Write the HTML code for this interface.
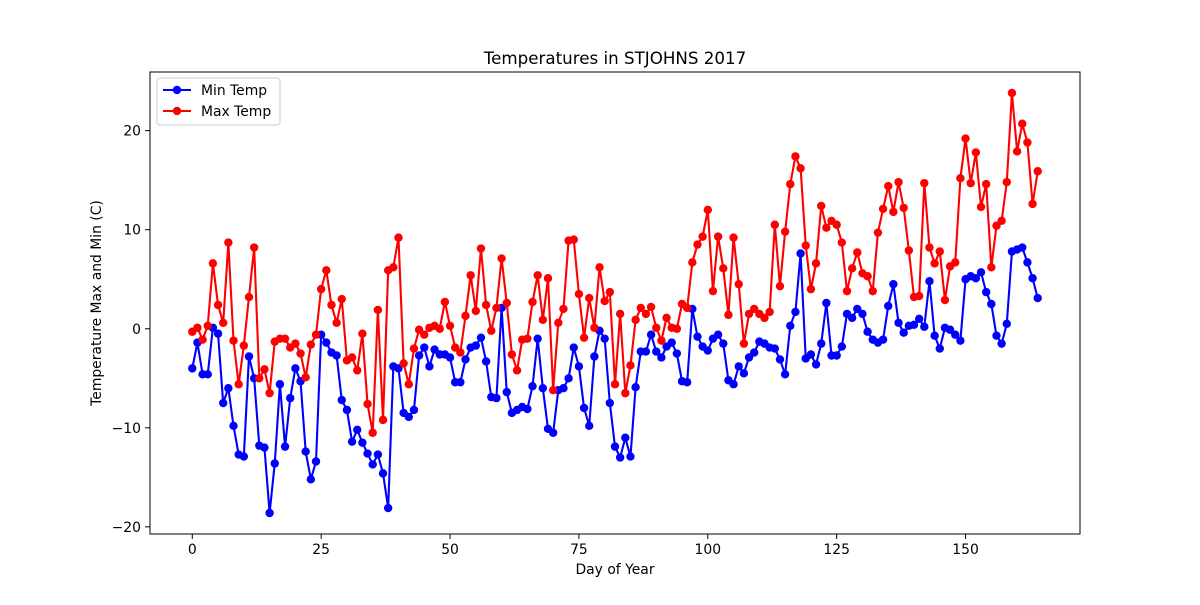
<!DOCTYPE html>
<html><head><meta charset="utf-8">
<style>
html,body{margin:0;padding:0;background:#fff;}
svg text{font-family:"DejaVu Sans","Liberation Sans",sans-serif;fill:#000;}
</style></head>
<body>
<svg id="chart" width="1200" height="600" xmlns="http://www.w3.org/2000/svg">
<rect width="1200" height="600" fill="#fff"/>
<text x="615" y="64" font-size="16.7" text-anchor="middle">Temperatures in STJOHNS 2017</text>
<g id="plot"></g>
<rect x="150" y="72" width="930" height="462" fill="none" stroke="#000" stroke-width="1"/>
<g id="xticks"></g><g id="yticks"></g>
<text x="615" y="574" font-size="13.9" text-anchor="middle">Day of Year</text>
<text transform="translate(101,303) rotate(-90)" font-size="13.9" text-anchor="middle">Temperature Max and Min (C)</text>
<g>
<rect x="157" y="78" width="123" height="47" rx="3" fill="#fff" fill-opacity="0.8" stroke="#ccc" stroke-width="1"/>
<g>
<line x1="163" y1="90" x2="191" y2="90" stroke="#0000ff" stroke-width="2.1"/>
<circle cx="177" cy="90" r="4.2" fill="#0000ff"/>
<text x="201" y="95" font-size="13.9">Min Temp</text></g>
<g>
<line x1="163" y1="111" x2="191" y2="111" stroke="#ff0000" stroke-width="2.1"/>
<circle cx="177" cy="111" r="4.2" fill="#ff0000"/>
<text x="201" y="116" font-size="13.9">Max Temp</text></g>
</g>
</svg>
<script>
const minTemp = [-4.0,-1.4,-4.6,-4.6,0.1,-0.5,-7.5,-6.0,-9.8,-12.7,-12.9,-2.8,-5.0,-11.8,-12.0,-18.6,-13.6,-5.6,-11.9,-7.0,-4.0,-5.3,-12.4,-15.2,-13.4,
-0.6,-1.4,-2.4,-2.7,-7.2,-8.2,-11.4,-10.2,-11.5,-12.6,-13.7,-12.7,-14.6,-18.1,-3.8,-4.0,-8.5,-8.9,-8.2,-2.7,-1.9,-3.8,-2.1,-2.6,-2.6,
-2.9,-5.4,-5.4,-3.1,-1.9,-1.7,-0.9,-3.3,-6.9,-7.0,2.1,-6.4,-8.5,-8.2,-7.9,-8.1,-5.8,-1.0,-6.0,-10.1,-10.5,-6.2,-6.0,-5.0,-1.9,
-3.8,-8.0,-9.8,-2.8,-0.2,-1.0,-7.5,-11.9,-13.0,-11.0,-12.9,-5.9,-2.3,-2.3,-0.6,-2.3,-2.9,-1.8,-1.4,-2.5,-5.3,-5.4,2.0,-0.8,-1.8,
-2.2,-1.0,-0.6,-1.5,-5.2,-5.6,-3.8,-4.5,-2.9,-2.4,-1.3,-1.5,-1.9,-2.0,-3.1,-4.6,0.3,1.7,7.6,-3.0,-2.6,-3.6,-1.5,2.6,-2.7,
-2.7,-1.8,1.5,1.1,2.0,1.5,-0.3,-1.1,-1.4,-1.1,2.3,4.5,0.6,-0.4,0.3,0.4,1.0,0.2,4.8,-0.7,-2.0,0.1,-0.1,-0.6,-1.2,
5.0,5.3,5.1,5.7,3.7,2.5,-0.7,-1.5,0.5,7.8,8.0,8.2,6.7,5.1,3.1];
const maxTemp = [-0.3,0.1,-1.1,0.3,6.6,2.4,0.6,8.7,-1.2,-5.6,-1.7,3.2,8.2,-5.0,-4.1,-6.5,-1.3,-1.0,-1.0,-1.9,-1.5,-2.5,-4.9,-1.6,-0.6,
4.0,5.9,2.4,0.6,3.0,-3.2,-2.9,-4.2,-0.5,-7.6,-10.5,1.9,-9.2,5.9,6.2,9.2,-3.5,-5.6,-2.0,-0.1,-0.6,0.1,0.3,0.0,2.7,
0.3,-1.9,-2.4,1.3,5.4,1.8,8.1,2.4,-0.2,2.1,7.1,2.6,-2.6,-4.2,-1.1,-1.0,2.7,5.4,0.9,5.1,-6.2,0.6,2.0,8.9,9.0,
3.5,-0.9,3.1,0.1,6.2,2.8,3.7,-5.6,1.5,-6.5,-3.7,0.9,2.1,1.5,2.2,0.1,-1.2,1.1,0.1,0.0,2.5,2.1,6.7,8.5,9.3,
12.0,3.8,9.3,6.1,1.4,9.2,4.5,-1.5,1.5,2.0,1.5,1.1,1.7,10.5,4.3,9.8,14.6,17.4,16.2,8.4,4.0,6.6,12.4,10.2,10.9,
10.5,8.7,3.8,6.1,7.7,5.6,5.3,3.8,9.7,12.1,14.4,11.8,14.8,12.2,7.9,3.2,3.3,14.7,8.2,6.6,7.8,2.9,6.3,6.7,15.2,
19.2,14.7,17.8,12.3,14.6,6.2,10.4,10.9,14.8,23.8,17.9,20.7,18.8,12.6,15.9];
const xTickValues = [0,25,50,75,100,125,150];
const yTickValues = [-20,-10,0,10,20];

const X0=150, X1=1080, Y0=534, Y1=72;
const all = minTemp.concat(maxTemp);
const n = minTemp.length;
const dmin = Math.min(...all), dmax = Math.max(...all);
const xlo = -0.05*(n-1), xhi = (n-1)*1.05;
const ylo = dmin-0.05*(dmax-dmin), yhi = dmax+0.05*(dmax-dmin);
function xs(v){return X0+(v-xlo)/(xhi-xlo)*(X1-X0);}
function ys(v){return Y0-(v-ylo)/(yhi-ylo)*(Y0-Y1);}
const NS="http://www.w3.org/2000/svg";
function mk(tag,attrs,parent){const e=document.createElementNS(NS,tag);for(const k in attrs)e.setAttribute(k,attrs[k]);parent.appendChild(e);return e;}
const plot=document.getElementById('plot');
function drawSeries(arr,color,name){
  const g=mk('g',{},plot);
  
  
  const pts=arr.map((v,i)=>xs(i).toFixed(2)+','+ys(v).toFixed(2)).join(' ');
  const pl=mk('polyline',{points:pts,fill:'none',stroke:color,'stroke-width':2.1,'stroke-linejoin':'round'},g);
  
  
  arr.forEach((v,i)=>{
    const c=mk('circle',{cx:xs(i),cy:ys(v),r:4.2,fill:color},g);
    
    
  });
}
drawSeries(minTemp,'#0000ff','min-temp');
drawSeries(maxTemp,'#ff0000','max-temp');
const xt=document.getElementById('xticks');
xTickValues.forEach(v=>{
  const x=xs(v);
  const l=mk('line',{x1:x,y1:Y0,x2:x,y2:Y0+5,stroke:'#000','stroke-width':1},xt);
  
  
  const t=mk('text',{x:x,y:Y0+20,'font-size':13.9,'text-anchor':'middle'},xt);
  t.textContent=String(v);
  
  
});
const yt=document.getElementById('yticks');
yTickValues.forEach(v=>{
  const y=ys(v);
  const l=mk('line',{x1:X0-5,y1:y,x2:X0,y2:y,stroke:'#000','stroke-width':1},yt);
  
  
  const t=mk('text',{x:X0-9,y:y+5,'font-size':13.9,'text-anchor':'end'},yt);
  t.textContent=v<0?'\u2212'+Math.abs(v):String(v);
  
  
});
</script>
</body></html>
